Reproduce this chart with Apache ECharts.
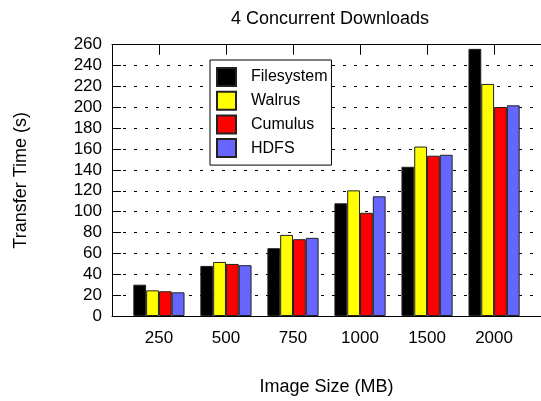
<!DOCTYPE html>
<html>
<head>
<meta charset="utf-8">
<script src="https://cdn.jsdelivr.net/npm/echarts@6/dist/echarts.min.js"></script>
<style>html,body{margin:0;padding:0;background:#fff}#c{width:541px;height:401px}</style>
</head>
<body>
<div id="c"></div>
<script>
const categories = ['250', '500', '750', '1000', '1500', '2000'];
const filesystem = [30, 48, 65, 108, 143, 256];
const walrus = [24.6, 51.8, 77.7, 120.4, 162.4, 222.4];
const cumulus = [23.7, 49.9, 73.6, 98.9, 153.6, 200.3];
const hdfs = [22.7, 48.7, 74.9, 114.7, 154.5, 201.9];
const seriesNames = ['Filesystem', 'Walrus', 'Cumulus', 'HDFS'];
const seriesColors = ['#000000', '#ffff00', '#ff0000', '#6666ff'];
const yTicks = [0, 260, 20];

const FONT = 'Liberation Sans, Arial, Helvetica, sans-serif';
const positions = categories.map((c, i) => i + 1);
const allData = [filesystem, walrus, cumulus, hdfs];

const chart = echarts.init(document.getElementById('c'), null, {renderer: 'canvas'});
chart.setOption({
  animation: false,
  backgroundColor: '#fff',
  title: {
    text: '4 Concurrent Downloads',
    left: 330, top: 10, padding: 0, textAlign: 'center',
    textStyle: {fontFamily: FONT, fontSize: 18, fontWeight: 'normal', color: '#000'}
  },
  legend: {
    orient: 'vertical',
    left: 210, top: 60,
    padding: [7, 4, 7, 6],
    itemWidth: 19, itemHeight: 18, itemGap: 3.7,
    icon: 'rect',
    backgroundColor: '#fff', borderColor: '#000', borderWidth: 1,
    textStyle: {fontFamily: FONT, fontSize: 16, lineHeight: 18, color: '#000', padding: [0, 0, 0, 10]},
    data: seriesNames
  },
  grid: {left: 112, right: -6, top: 44.7, bottom: 82.7, containLabel: false},
  xAxis: [{
    type: 'value', min: 0.3, max: 6.7, position: 'bottom',
    name: 'Image Size (MB)', nameLocation: 'middle', nameGap: 62,
    nameTextStyle: {fontFamily: FONT, fontSize: 18, color: '#000'},
    axisLine: {show: true, onZero: false, lineStyle: {color: '#000', width: 1}},
    axisTick: {show: false},
    axisLabel: {
      customValues: positions, margin: 14,
      fontFamily: FONT, fontSize: 17, color: '#000',
      formatter: v => categories[Math.round(v) - 1] || ''
    },
    splitLine: {show: false}
  }, {
    type: 'value', min: 0.3, max: 6.7, position: 'top',
    axisLine: {show: true, onZero: false, lineStyle: {color: '#000', width: 1}},
    axisTick: {show: true, customValues: positions, inside: true, length: 10, lineStyle: {color: '#000'}},
    axisLabel: {show: false},
    splitLine: {show: false}
  }],
  yAxis: {
    type: 'value', min: yTicks[0], max: yTicks[1], interval: yTicks[2],
    name: 'Transfer Time (s)', nameLocation: 'middle', nameGap: 82,
    nameTextStyle: {fontFamily: FONT, fontSize: 18, color: '#000'},
    axisLine: {show: true, lineStyle: {color: '#000', width: 1}},
    axisTick: {show: true, inside: true, length: 9, lineStyle: {color: '#000'}},
    axisLabel: {margin: 10, fontFamily: FONT, fontSize: 17, color: '#000', padding: [7, 0, 0, 0]},
    splitLine: {show: true, lineStyle: {color: '#000', width: 1, type: [3, 8]}}
  },
  series: seriesNames.map((name, k) => ({
    name: name,
    type: 'bar',
    xAxisIndex: 0,
    barWidth: 12.8,
    barGap: '0%',
    itemStyle: {color: seriesColors[k], borderColor: '#222', borderWidth: 1},
    data: allData[k].map((v, i) => [positions[i], v])
  }))
});
</script>
</body>
</html>
